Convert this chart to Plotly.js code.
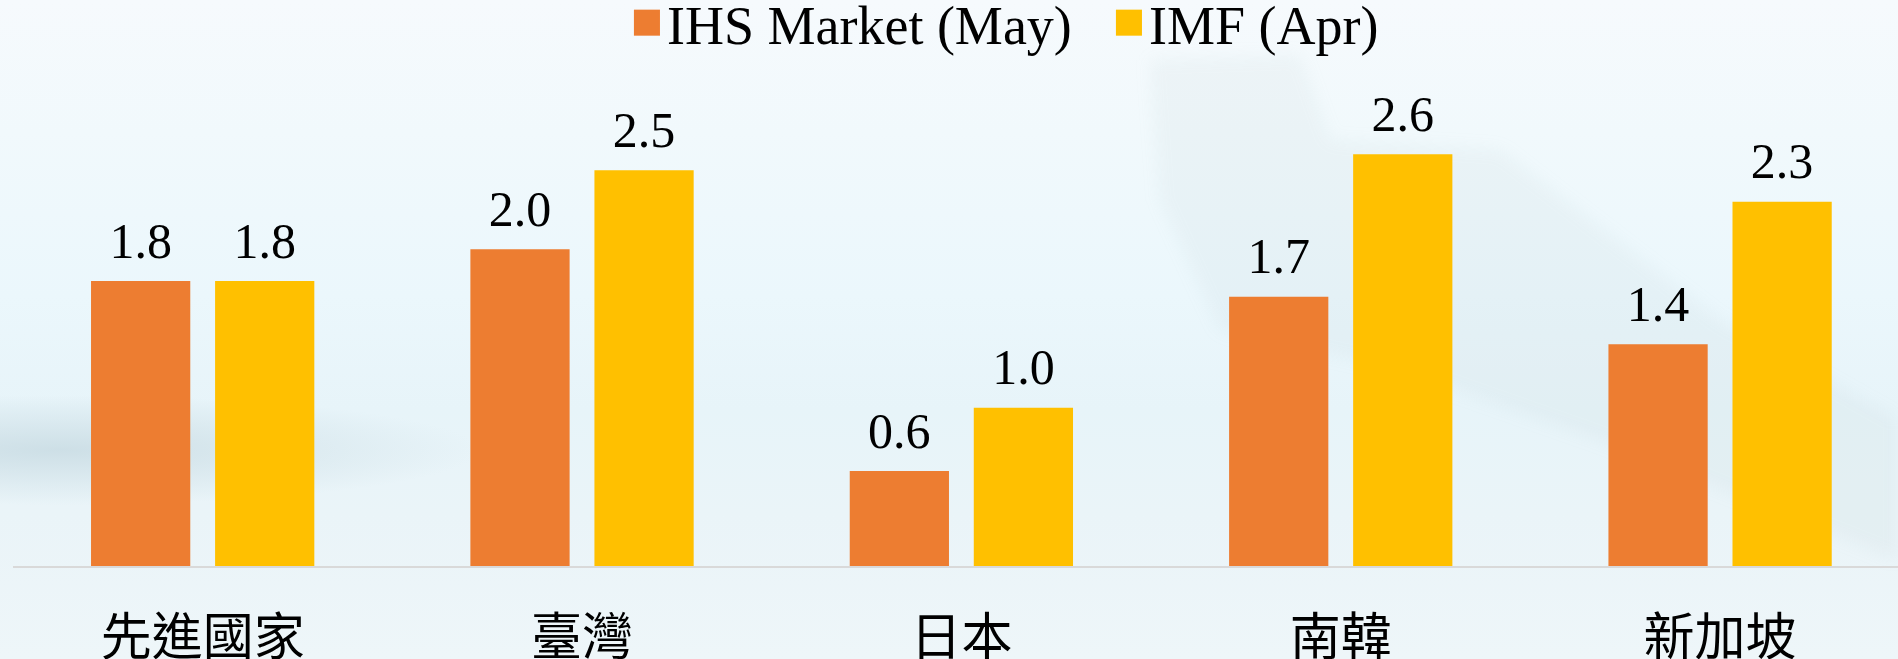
<!DOCTYPE html>
<html>
<head>
<meta charset="utf-8">
<script src="https://cdn.plot.ly/plotly-3.0.1.min.js"></script>
<style>
  html, body { margin: 0; padding: 0; }
  #wrap { position: relative; width: 1898px; height: 659px; overflow: hidden;
    background:
      radial-gradient(ellipse 420px 55px at 60px 450px, rgba(196,216,224,0.75), rgba(196,216,224,0)),
      linear-gradient(to bottom, #f6fafd 0%, #f1f9fc 20%, #ebf7fc 45%, #e7f4f9 62%, #eaf4f8 78%, #eef6f9 100%);
  }
  #blur { position: absolute; left: 0; top: 0; width: 1898px; height: 659px; filter: blur(8px); }
  #plane { position: absolute; left: 0; top: 0; width: 1898px; height: 659px;
    background: rgba(170,185,192,0.09);
    clip-path: polygon(1150px 60px, 1300px 55px, 1330px 140px, 1500px 150px, 1720px 320px, 1898px 420px, 1898px 560px, 1600px 440px, 1400px 370px, 1220px 330px, 1160px 200px);
  }
  #chart { position: absolute; left: 0; top: 0; width: 1898px; height: 659px; }
</style>
</head>
<body>
<div id="wrap"><div id="blur"><div id="plane"></div></div><div id="chart"></div></div>
<script>
const categories = ["先進國家", "臺灣", "日本", "南韓", "新加坡"];
const ihsMay = [1.8, 2.0, 0.6, 1.7, 1.4];
const imfApr = [1.8, 2.5, 1.0, 2.6, 2.3];
const seriesNames = ["IHS Market (May)", "IMF (Apr)"];
const seriesColors = ["#ED7D31", "#FFC000"];

const serif = "'Liberation Serif', 'Times New Roman', serif";
const series = [ihsMay, imfApr];

const traces = [];
series.forEach((vals, i) => {
  traces.push({
    type: "bar", name: seriesNames[i], x: categories, y: vals,
    marker: { color: seriesColors[i] },
    hoverinfo: "skip"
  });
});
series.forEach((vals, i) => {
  traces.push({
    type: "scatter", mode: "markers+text", x: categories, y: vals,
    showlegend: false, hoverinfo: "skip", cliponaxis: false,
    marker: { size: 16, opacity: 0, color: seriesColors[i] },
    text: vals.map(v => v.toFixed(1)), textposition: "top center",
    textfont: { family: serif, size: 50, color: "#000" }
  });
});

const layout = {
  width: 1898, height: 659,
  margin: { l: 13, r: 0, t: 60, b: 93, autoexpand: false },
  paper_bgcolor: "rgba(0,0,0,0)",
  plot_bgcolor: "rgba(0,0,0,0)",
  barmode: "group",
  bargap: 0.346,
  bargroupgap: 0.2,
  scattermode: "group",
  scattergap: 0.346,
  showlegend: true,
  legend: {
    orientation: "h", x: 0.3257, xanchor: "left",
    yref: "container", y: 0.965, yanchor: "middle",
    font: { family: serif, size: 54, color: "#000" },
    bgcolor: "rgba(0,0,0,0)",
    entrywidth: 437, entrywidthmode: "pixels"
  },
  xaxis: {
    type: "category",
    range: [-0.5, 4.469],
    showline: true, linecolor: "#d9d9d9", linewidth: 2,
    ticks: "", showgrid: false, zeroline: false,
    tickfont: { family: "'Noto Sans CJK TC', sans-serif", size: 51, color: "#000" },
    ticklabelstandoff: 26
  },
  yaxis: {
    range: [0, 3.196], visible: false, showgrid: false, zeroline: false
  }
};

Plotly.newPlot("chart", traces, layout, { staticPlot: true, displayModeBar: false }).then(() => {
  document.querySelectorAll("#chart .legend .legendpoints path").forEach(p => {
    const t = p.getAttribute("transform") || "";
    p.setAttribute("transform", t + " scale(2.17)");
  });
});
</script>
</body>
</html>
